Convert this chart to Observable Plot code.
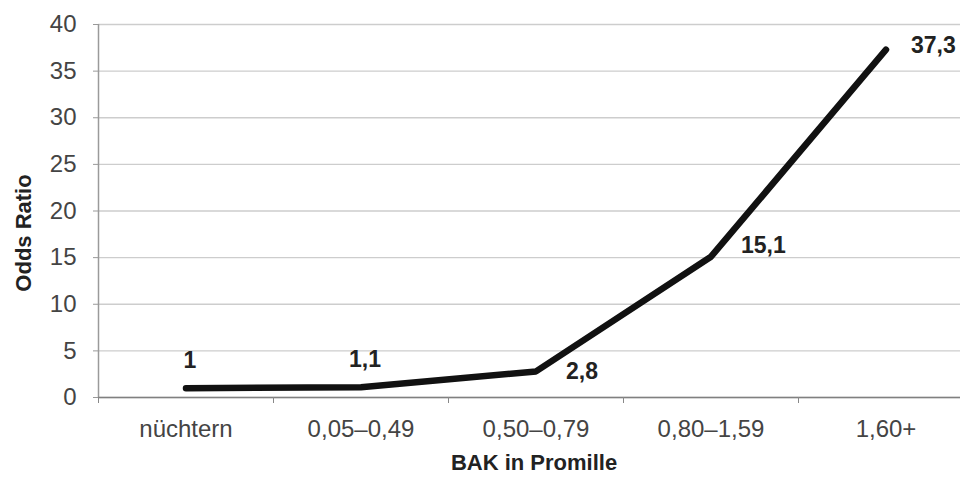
<!DOCTYPE html>
<html><head><meta charset="utf-8">
<script src="https://cdn.jsdelivr.net/npm/d3@7"></script>
<script src="https://cdn.jsdelivr.net/npm/@observablehq/plot@0.6"></script>
<style>
html,body{margin:0;padding:0;overflow:hidden;background:#fff;}
#chart svg{overflow:hidden;display:block;}
</style>
</head><body><div id="chart"></div>
<script>
const categories = ["nüchtern", "0,05–0,49", "0,50–0,79", "0,80–1,59", "1,60+"];
const oddsRatio = [1, 1.1, 2.8, 15.1, 37.3];
const valueLabels = ["1", "1,1", "2,8", "15,1", "37,3"];
const yTicks = [0, 5, 10, 15, 20, 25, 30, 35, 40];
const xAxisTitle = "BAK in Promille";
const yAxisTitle = "Odds Ratio";

const data = categories.map((c, i) => ({i, c, v: oddsRatio[i], label: valueLabels[i]}));
const boundaries = categories.slice(0, -1).map((c, i) => i + 0.5);
const pick = (k) => data.filter(d => k.includes(d.i));

const font = "Liberation Sans, Arial, Helvetica, sans-serif";

const plot = Plot.plot({
  width: 960,
  height: 477,
  marginLeft: 98,
  marginRight: -13,
  marginTop: 24,
  marginBottom: 80,
  style: {fontFamily: font, fontSize: "24px", background: "#fff", overflow: "hidden"},
  x: {type: "linear", domain: [-0.5, categories.length - 0.5]},
  y: {domain: [0, 40]},
  marks: [
    Plot.gridY(yTicks, {stroke: "#cdcdcd", strokeOpacity: 1, strokeWidth: 1.3}),
    Plot.ruleX([-0.5], {stroke: "#9a9a9a", strokeWidth: 1.5}),
    Plot.ruleY([0], {stroke: "#808080", strokeWidth: 1.5}),
    Plot.axisY(yTicks, {tickSize: 5, tickPadding: 17, fontSize: 24, fill: "#444", stroke: "#999", label: null}),
    Plot.axisX([-0.5, ...boundaries], {tickSize: 6, tickFormat: () => "", stroke: "#888", label: null}),
    Plot.axisX(data.map(d => d.i), {tickSize: 0, tickPadding: 22, tickFormat: i => categories[i], fontSize: 24, fill: "#444", label: null}),
    Plot.line(data, {x: "i", y: "v", stroke: "#111", strokeWidth: 6.5, strokeLinecap: "round", strokeLinejoin: "round"}),
    Plot.text(pick([0, 1]), {x: "i", y: "v", text: "label", dx: 4, dy: -28, fontWeight: "bold", fontSize: 23, fill: "#222"}),
    Plot.text(pick([2]), {x: "i", y: "v", text: "label", dx: 30, dy: 0, textAnchor: "start", fontWeight: "bold", fontSize: 23, fill: "#222"}),
    Plot.text(pick([3]), {x: "i", y: "v", text: "label", dx: 30, dy: -11, textAnchor: "start", fontWeight: "bold", fontSize: 23, fill: "#222"}),
    Plot.text(pick([4]), {x: "i", y: "v", text: "label", dx: 25, dy: -4, textAnchor: "start", fontWeight: "bold", fontSize: 23, fill: "#222"}),
    Plot.text([yAxisTitle], {frameAnchor: "left", rotate: -90, dx: -75, dy: 22, textAnchor: "middle", lineAnchor: "middle", fontWeight: "bold", fontSize: 22, fill: "#222"}),
    Plot.text([xAxisTitle], {frameAnchor: "bottom", dx: -2, dy: 65, textAnchor: "middle", lineAnchor: "middle", fontWeight: "bold", fontSize: 22, fill: "#222"})
  ]
});
document.getElementById("chart").appendChild(plot);
</script>
</body></html>
